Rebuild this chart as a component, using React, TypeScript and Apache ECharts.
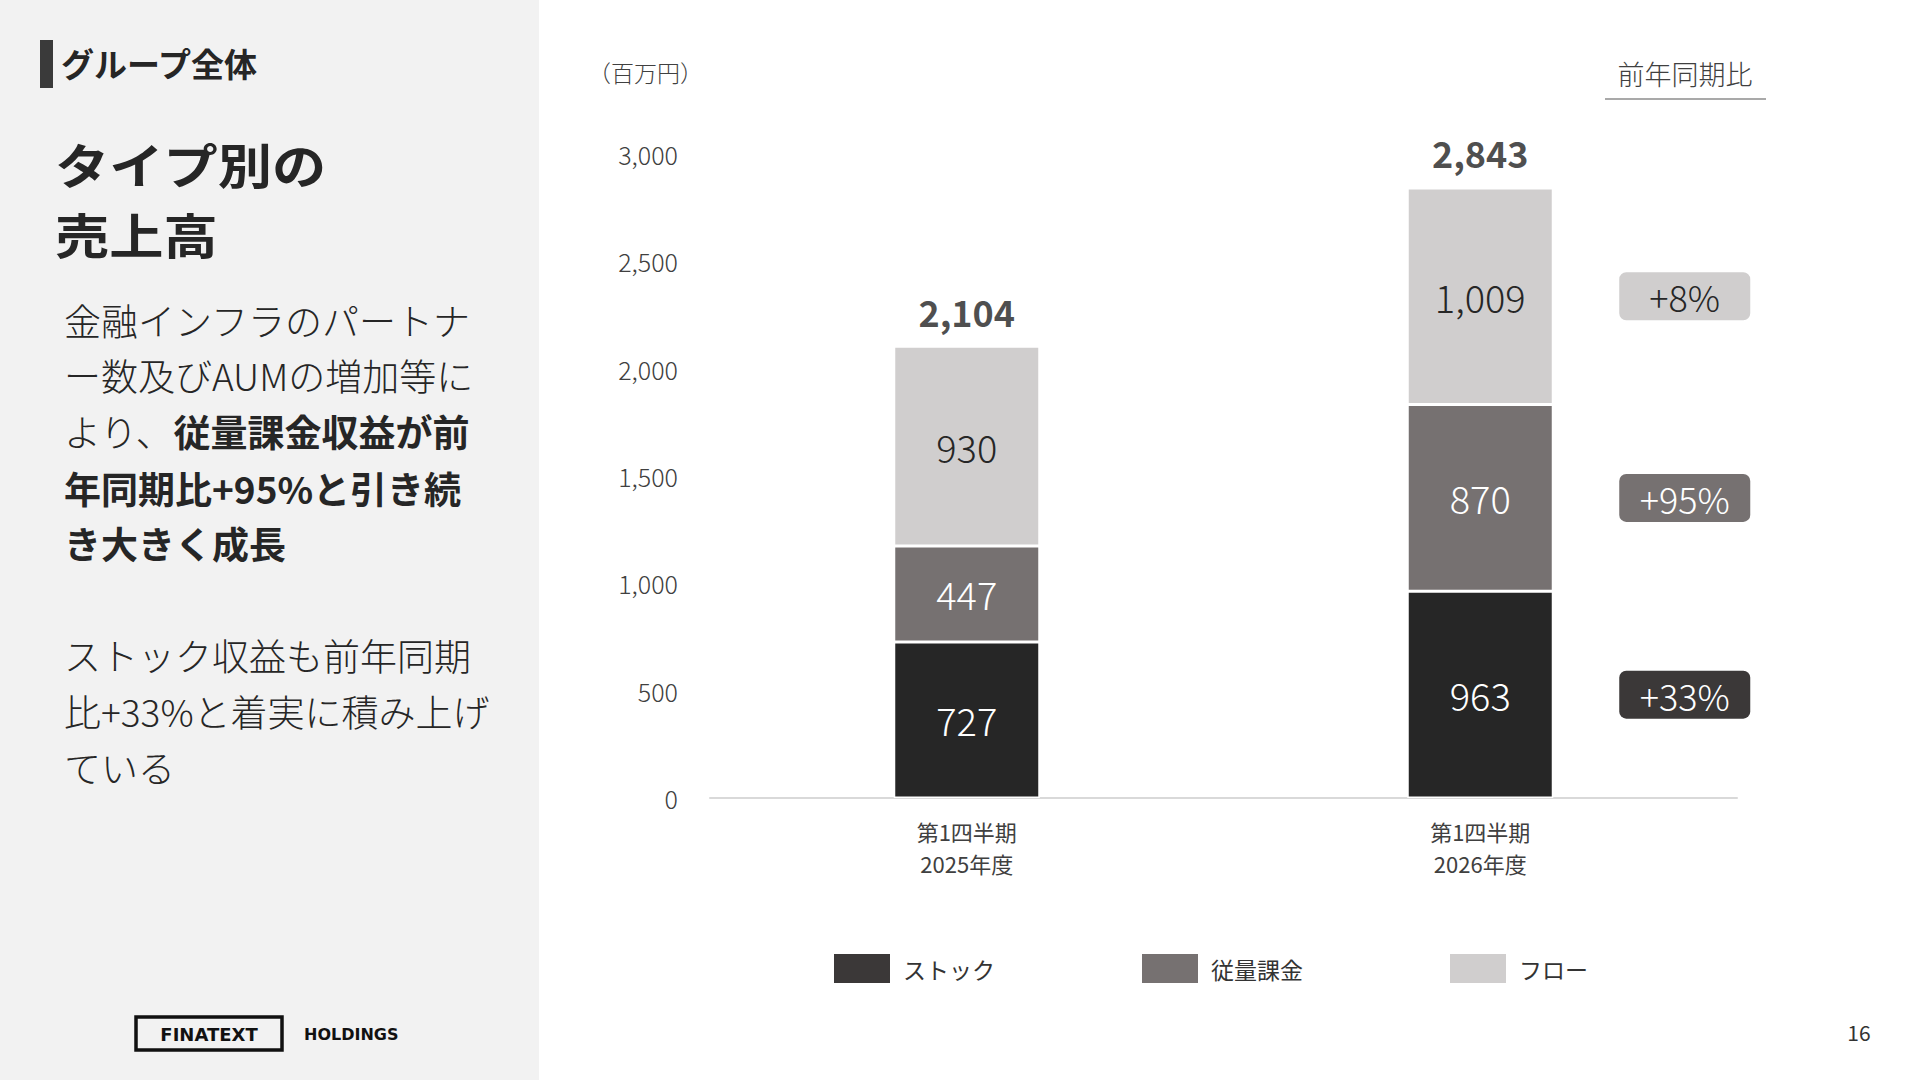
import React, { useEffect, useRef } from "react";
import * as echarts from "echarts";

const categories = ["第1四半期\n2025年度", "第1四半期\n2026年度"];
const seriesNames = ["ストック", "従量課金", "フロー"];
const stock = [727, 963];
const fee = [447, 870];
const flow = [930, 1009];
const totals = [2104, 2843];
const yoyLabels = ["+33%", "+95%", "+8%"];
const yTicksMax = 3000;
const yTicksInterval = 500;

const barColors = ["#262626", "#767171", "#d0cece"];
const legendColors = ["#3b3838", "#767171", "#d0cece"];
const labelColors = ["#ffffff", "#ffffff", "#262626"];
const badgeFill = ["#3b3838", "#767171", "#d0cece"];
const badgeText = ["#ffffff", "#ffffff", "#262626"];

const FONT = '"Noto Sans CJK JP", "Noto Sans", sans-serif';
const LOGO_FONT = '"DejaVu Sans", sans-serif';
const fmt = (v: number) => v.toLocaleString("en-US");

export default function App() {
  const ref = useRef<HTMLDivElement>(null);
  useEffect(() => {
    document.body.style.margin = "0";
    if (!ref.current) return;
    const chart = echarts.init(ref.current, undefined, { renderer: "svg" });
    const values = [stock, fee, flow];
    const last = categories.length - 1;
    const badgeData = values.map((arr, i) => {
      let base = 0;
      for (let k = 0; k < i; k++) base += values[k][last];
      return [last, base + arr[last] / 2, i];
    });

    const textEl = (
      text: string,
      x: number,
      y: number,
      size: number,
      weight: string | number,
      color: string,
      align = "left",
      family = FONT,
      extra: any = {}
    ) => ({
      type: "text",
      x,
      y,
      ...extra,
      style: {
        text,
        fill: color,
        fontSize: size,
        fontWeight: weight,
        fontFamily: family,
        textAlign: align,
        textVerticalAlign: "middle",
      },
    });

    const richBody = (text: string, y: number) => ({
      type: "text",
      x: 64,
      y,
      style: {
        text,
        fill: "#262626",
        fontSize: 37,
        fontFamily: FONT,
        textVerticalAlign: "middle",
        rich: {
          b: { fontSize: 37, fontWeight: "bold", fontFamily: FONT, fill: "#262626", color: "#262626" },
          n: { fontSize: 37, fontWeight: 300, fontFamily: FONT, fill: "#262626", color: "#262626" },
        },
      },
    });

    chart.setOption({
      animation: false,
      backgroundColor: "#ffffff",
      textStyle: { fontFamily: FONT },
      grid: { left: 710, right: 183, top: 154, bottom: 282, containLabel: false },
      legend: {
        left: 829,
        top: 949,
        itemWidth: 56,
        itemHeight: 29,
        itemGap: 147,
        icon: "rect",
        itemStyle: { borderWidth: 0 },
        textStyle: { fontSize: 23, color: "#333333", fontFamily: FONT, width: 110, padding: [0, 0, 0, 8] },
        data: seriesNames.map((n, i) => ({ name: n, itemStyle: { color: legendColors[i], borderWidth: 0 } })),
      },
      xAxis: {
        type: "category",
        data: categories,
        axisLine: { lineStyle: { color: "#d9d9d9", width: 2 } },
        axisTick: { show: false },
        axisLabel: { fontSize: 22, lineHeight: 32, color: "#404040", margin: 17, fontFamily: FONT },
      },
      yAxis: {
        type: "value",
        min: 0,
        max: yTicksMax,
        interval: yTicksInterval,
        axisLine: { show: false },
        axisTick: { show: false },
        splitLine: { show: false },
        axisLabel: {
          fontSize: 25,
          color: "#404040",
          margin: 32,
          fontFamily: FONT,
          fontWeight: 300,
          formatter: (v: number) => fmt(v),
        },
      },
      series: [
        ...values.map((arr, i) => ({
          name: seriesNames[i],
          type: "bar",
          stack: "total",
          barWidth: 146,
          data: arr,
          itemStyle: { color: barColors[i], borderColor: "#ffffff", borderWidth: 1.5 },
          label: {
            show: true,
            position: "inside",
            fontSize: 38,
            fontWeight: 300,
            color: labelColors[i],
            fontFamily: FONT,
            formatter: (p: any) => fmt(p.value),
          },
        })),
        {
          name: "total",
          type: "scatter",
          data: totals,
          symbolSize: 1,
          itemStyle: { color: "rgba(0,0,0,0)" },
          silent: true,
          z: 10,
          label: {
            show: true,
            position: "top",
            distance: 17,
            fontSize: 36,
            fontWeight: "bold",
            color: "#1e1e1e",
            fontFamily: FONT,
            formatter: (p: any) => fmt(p.value),
          },
        },
        {
          name: "yoy",
          type: "custom",
          clip: false,
          silent: true,
          data: badgeData,
          renderItem: (_params: any, api: any) => {
            const i = api.value(2);
            const p = api.coord([api.value(0), api.value(1)]);
            return {
              type: "group",
              children: [
                {
                  type: "rect",
                  shape: { x: p[0] + 139, y: p[1] - 24, width: 131, height: 48, r: 7 },
                  style: { fill: badgeFill[i] },
                },
                {
                  type: "text",
                  x: p[0] + 204.5,
                  y: p[1],
                  style: {
                    text: yoyLabels[i],
                    fill: badgeText[i],
                    fontSize: 36,
                    fontWeight: 300,
                    fontFamily: FONT,
                    textAlign: "center",
                    textVerticalAlign: "middle",
                  },
                },
              ],
            };
          },
        },
      ],
      graphic: [
        { type: "rect", shape: { x: 0, y: 0, width: 539, height: 1080 }, style: { fill: "#f2f2f2" }, z: -10 },
        { type: "rect", shape: { x: 40, y: 40, width: 13, height: 48 }, style: { fill: "#3a3a3a" } },
        textEl("グループ全体", 61, 63, 33, "bold", "#262626"),
        textEl("タイプ別の", 55, 163, 48, "bold", "#262626", "left", FONT, { scaleX: 1.13, originX: 0 }),
        textEl("売上高", 55, 233, 48, "bold", "#262626", "left", FONT, { scaleX: 1.13, originX: 0 }),
        richBody("{n|金融インフラのパートナ}", 320),
        richBody("{n|ー数及びAUMの増加等に}", 375),
        richBody("{n|より、}{b|従量課金収益が前}", 431),
        richBody("{b|年同期比+95%と引き続}", 488),
        richBody("{b|き大きく成長}", 543),
        richBody("{n|ストック収益も前年同期}", 655),
        richBody("{n|比+33%と着実に積み上げ}", 711),
        richBody("{n|ている}", 767),
        {
          type: "rect",
          shape: { x: 136, y: 1017, width: 146, height: 33 },
          style: { fill: "none", stroke: "#111111", lineWidth: 3.5 },
        },
        textEl("FINATEXT", 209, 1034, 18, "bold", "#111111", "center", LOGO_FONT),
        textEl("HOLDINGS", 304, 1034, 16, "bold", "#111111", "left", LOGO_FONT),
        textEl("（百万円）", 588, 72, 23, 300, "#404040"),
        textEl("前年同期比", 1685, 73, 27, 300, "#404040", "center"),
        {
          type: "line",
          shape: { x1: 1605, y1: 99, x2: 1766, y2: 99 },
          style: { stroke: "#8c8c8c", lineWidth: 1.5 },
        },
        textEl("16", 1859, 1032, 21, "normal", "#333333", "center"),
      ],
    });
    return () => chart.dispose();
  }, []);
  return <div ref={ref} style={{ position: "fixed", left: 0, top: 0, width: 1920, height: 1080 }} />;
}
